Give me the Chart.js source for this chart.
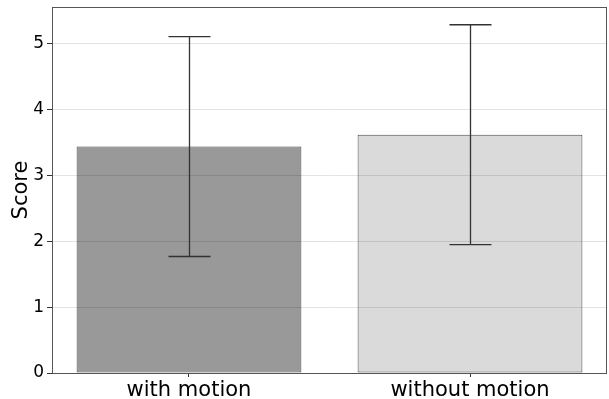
<!DOCTYPE html>
<html lang="en">
<head>
  <meta charset="UTF-8">
  <title>Score with / without motion</title>
  <script src="https://cdn.jsdelivr.net/npm/chart.js"></script>
  <style>
    html, body { margin: 0; padding: 0; background: #fff; }
    #chartContainer { width: 609px; height: 399px; }
  </style>
</head>
<body>
  <div id="chartContainer">
    <canvas id="scoreChart" width="609" height="399"></canvas>
  </div>

  <script>
    const labels = ["with motion", "without motion"];
    const means = [3.44, 3.62];
    const errors = [1.67, 1.67];
    const yTicks = [0, 1, 2, 3, 4, 5];
    const barColors = ['#999999', '#dadada'];

    // error bars + full frame, drawn on top
    const errorBars = {
      id: 'errorBars',
      afterDraw(chart) {
        const { ctx, chartArea, scales } = chart;
        const meta = chart.getDatasetMeta(0);
        ctx.save();
        ctx.strokeStyle = '#333';
        ctx.lineWidth = 1.3;
        meta.data.forEach((bar, i) => {
          const x = Math.round(bar.x) + 0.5;
          const top = scales.y.getPixelForValue(means[i] + errors[i]);
          const bottom = scales.y.getPixelForValue(means[i] - errors[i]);
          ctx.beginPath();
          ctx.moveTo(x, top); ctx.lineTo(x, bottom);
          ctx.moveTo(x - 21, top); ctx.lineTo(x + 21, top);
          ctx.moveTo(x - 21, bottom); ctx.lineTo(x + 21, bottom);
          ctx.stroke();
        });
        ctx.strokeStyle = '#555';
        ctx.lineWidth = 1;
        ctx.strokeRect(chartArea.left + 0.5, chartArea.top + 0.5,
          chartArea.right - chartArea.left - 1, chartArea.bottom - chartArea.top);
        ctx.restore();
      }
    };

    const ctx = document.getElementById('scoreChart').getContext('2d');
    new Chart(ctx, {
      type: 'bar',
      data: {
        datasets: [{
          data: means.map((m, i) => ({ x: i, y: m })),
          backgroundColor: barColors,
          borderColor: '#4a4a4a',
          borderWidth: 1,
          borderSkipped: false,
          barPercentage: 0.8,
          categoryPercentage: 1.0
        }]
      },
      options: {
        responsive: false,
        animation: false,
        layout: { padding: { top: 7, right: 2, left: 0, bottom: 0 } },
        plugins: {
          legend: { display: false },
          tooltip: { enabled: false }
        },
        scales: {
          x: {
            type: 'linear',
            min: -0.4875,
            max: 1.4875,
            offset: false,
            afterBuildTicks: axis => { axis.ticks = [{ value: 0 }, { value: 1 }]; },
            afterFit: axis => { axis.height = 26; axis.paddingLeft = 0; axis.paddingRight = 0; },
            grid: { display: true, offset: false, drawOnChartArea: false, tickLength: 4, color: '#333' },
            border: { display: false },
            ticks: {
              callback: v => labels[v],
              color: '#000',
              padding: 1,
              autoSkip: false,
              maxRotation: 0,
              font: { family: 'DejaVu Sans', size: 21 }
            }
          },
          y: {
            min: 0,
            max: 5.56,
            afterBuildTicks: axis => { axis.ticks = yTicks.map(v => ({ value: v })); },
            afterFit: axis => { axis.width = 52; axis.paddingTop = 0; axis.paddingBottom = 0; },
            grid: {
              z: 1,
              color: 'rgba(0,0,0,0.11)',
              borderDash: [3, 1.5],
              tickColor: '#333',
              tickLength: 5,
              tickBorderDash: []
            },
            border: { display: false },
            title: {
              display: true,
              text: 'Score',
              color: '#000',
              padding: { top: 9, bottom: 0 },
              font: { family: 'DejaVu Sans', size: 21 }
            },
            ticks: {
              color: '#000',
              padding: 3,
              autoSkip: false,
              font: { family: 'DejaVu Sans', size: 17 }
            }
          }
        }
      },
      plugins: [errorBars]
    });
  </script>
</body>
</html>
